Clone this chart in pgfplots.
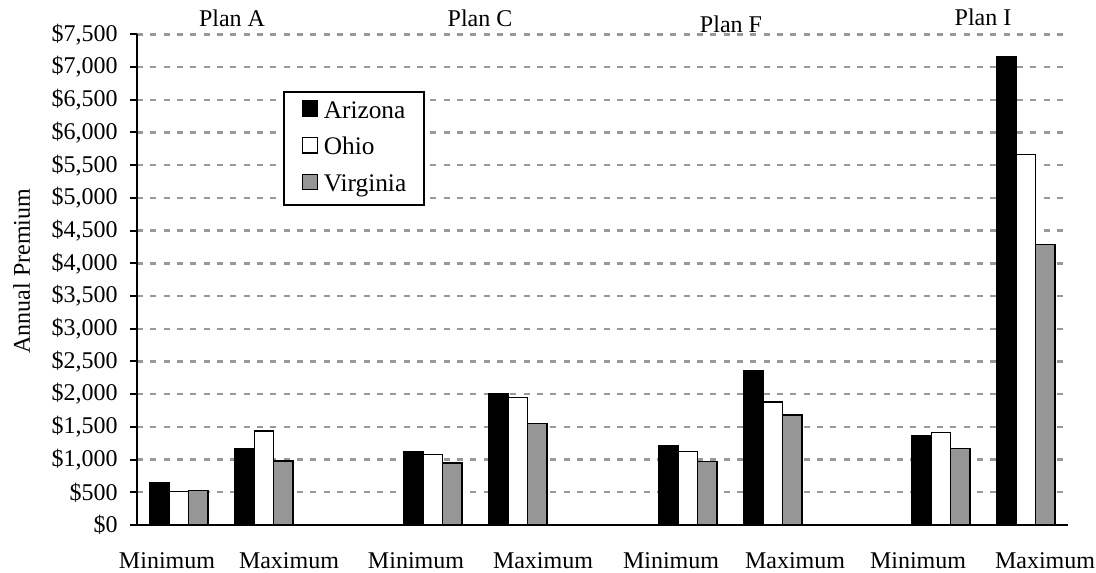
\documentclass[border=0pt]{standalone}
\usepackage{pgfplots}
\pgfplotsset{compat=1.18}
\usepackage{fontspec}
\setmainfont{Liberation Serif}
\definecolor{vgray}{HTML}{969696}
\definecolor{ggray}{HTML}{999999}
\pgfplotsset{sqleg/.style={legend image code/.code={\draw[##1,line width=1.1pt,solid] (0pt,-3pt) rectangle (11.5pt,8.5pt);}}}
\begin{document}
\begin{tikzpicture}
\path[use as bounding box] (0,0) rectangle (822pt,429.75pt);
\begin{axis}[
  at={(102.75pt,36pt)}, anchor=south west,
  scale only axis, width=698.25pt, height=368pt,
  xmin=0, xmax=931, ymin=0, ymax=7500,
  axis lines*=left,
  axis line style={black, line width=1.5pt},
  xtick=\empty,
  ytick={0,500,...,7500},
  ymajorgrids,
  grid style={ggray, line width=1.8pt, dash pattern=on 4.5pt off 5.5pt},
  tick align=outside, major tick length=5.25pt,
  y tick style={black, line width=1.5pt, solid},
  scaled y ticks=false,
  yticklabel={\$\pgfmathprintnumber{\tick}},
  /pgf/number format/1000 sep={,},
  /pgf/number format/fixed,
  /pgf/number format/precision=0,
  /pgf/number format/assume math mode=true,
  tick label style={font=\fontsize{18}{20}\selectfont},
  yticklabel style={inner sep=0pt, xshift=-9pt},
  clip=false,
  legend style={at={(rel axis cs:0.1571,0.8845)}, anchor=north west, draw=black, line width=1.6pt, fill=white,
     font=\fontsize{19}{22}\selectfont, inner xsep=13pt, inner ysep=6pt,
     nodes={inner sep=0pt, text height=13pt, text depth=4pt},
     /tikz/row sep=10pt, /tikz/column sep=4pt},
  legend cell align=left,
]
\addplot[ybar, bar width=19.4, bar shift=0pt, fill=black, draw=black, line width=1.1pt, sqleg]
  coordinates {(22.6,652) (107.6,1172) (276.6,1116) (361.6,2002) (531.6,1212) (616.6,2354) (784.6,1360) (869.6,7157)};
\addplot[ybar, bar width=19.4, bar shift=0pt, fill=white, draw=black, line width=1.1pt, sqleg]
  coordinates {(42,509) (127,1437) (296,1080) (381,1951) (551,1121) (636,1880) (804,1411) (889,5665)};
\addplot[ybar, bar width=19.4, bar shift=0pt, fill=vgray, draw=black, line width=1.1pt, sqleg]
  coordinates {(61.4,525) (146.4,978) (315.4,948) (400.4,1554) (570.4,968) (655.4,1681) (823.4,1172) (908.4,4290)};
\legend{Arizona,Ohio,Virginia}
\node[font=\fontsize{18}{20}\selectfont, anchor=base] at (axis cs:95,7626) {Plan A};
\node[font=\fontsize{18}{20}\selectfont, anchor=base] at (axis cs:343,7626) {Plan C};
\node[font=\fontsize{18}{20}\selectfont, anchor=base] at (axis cs:594,7535) {Plan F};
\node[font=\fontsize{18}{20}\selectfont, anchor=base] at (axis cs:846,7640) {Plan I};
\node[font=\fontsize{18}{20}\selectfont] at (axis cs:30,-550) {Minimum};
\node[font=\fontsize{18}{20}\selectfont] at (axis cs:152,-550) {Maximum};
\node[font=\fontsize{18}{20}\selectfont] at (axis cs:279,-550) {Minimum};
\node[font=\fontsize{18}{20}\selectfont] at (axis cs:406,-550) {Maximum};
\node[font=\fontsize{18}{20}\selectfont] at (axis cs:534,-550) {Minimum};
\node[font=\fontsize{18}{20}\selectfont] at (axis cs:658,-550) {Maximum};
\node[font=\fontsize{18}{20}\selectfont] at (axis cs:781,-550) {Minimum};
\node[font=\fontsize{18}{20}\selectfont] at (axis cs:908,-550) {Maximum};
\node[font=\fontsize{18}{20}\selectfont, rotate=90] at (rel axis cs:-0.1240,0.5176) {Annual Premium};
\end{axis}
\end{tikzpicture}
\end{document}
